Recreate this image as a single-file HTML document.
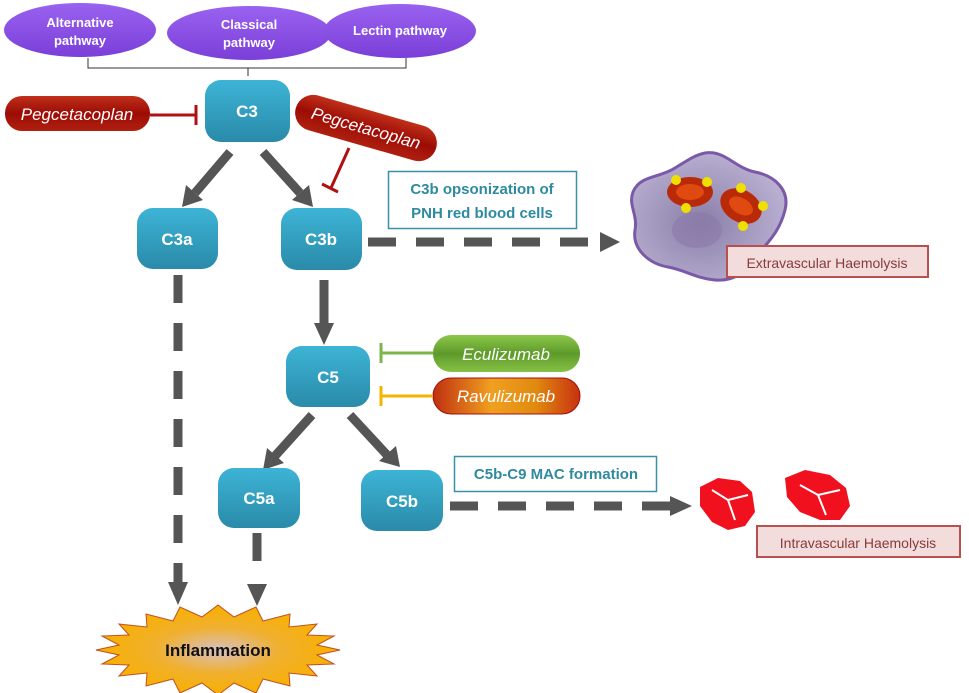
<!DOCTYPE html>
<html><head><meta charset="utf-8"><style>
html,body{margin:0;padding:0;background:#fff;}
svg{display:block;font-family:"Liberation Sans",sans-serif;}
</style></head><body>
<svg width="969" height="693" viewBox="0 0 969 693" xmlns="http://www.w3.org/2000/svg">
<defs>
<linearGradient id="box" x1="0" y1="0" x2="0" y2="1"><stop offset="0" stop-color="#3db4d6"/><stop offset="1" stop-color="#2a8aa9"/></linearGradient>
<linearGradient id="purp" x1="0" y1="0" x2="0" y2="1"><stop offset="0" stop-color="#9a62f0"/><stop offset="1" stop-color="#7a3fd8"/></linearGradient>
<linearGradient id="red" x1="0" y1="0" x2="0" y2="1"><stop offset="0" stop-color="#c0301a"/><stop offset="0.5" stop-color="#9c0c05"/><stop offset="1" stop-color="#b02010"/></linearGradient>
<linearGradient id="grn" x1="0" y1="0" x2="0" y2="1"><stop offset="0" stop-color="#8cc84a"/><stop offset="0.5" stop-color="#5e9a2a"/><stop offset="1" stop-color="#86c246"/></linearGradient>
<linearGradient id="org" x1="0" y1="0" x2="1" y2="0"><stop offset="0" stop-color="#c03010"/><stop offset="0.4" stop-color="#f0a020"/><stop offset="0.7" stop-color="#e08a10"/><stop offset="1" stop-color="#c83010"/></linearGradient>
<radialGradient id="star" cx="0.5" cy="0.5" r="0.5"><stop offset="0" stop-color="#d8c0c0"/><stop offset="0.5" stop-color="#f0b030"/><stop offset="1" stop-color="#f8b000"/></radialGradient>
<radialGradient id="mac" cx="0.45" cy="0.55" r="0.55"><stop offset="0" stop-color="#8a7ea8"/><stop offset="1" stop-color="#b8aed0"/></radialGradient>
</defs>

<ellipse cx="80" cy="30" rx="76" ry="27" fill="url(#purp)"/>
<ellipse cx="249" cy="33" rx="82" ry="27" fill="url(#purp)"/>
<ellipse cx="400" cy="31" rx="76" ry="27" fill="url(#purp)"/>
<g fill="#fff" font-weight="bold" font-size="13" text-anchor="middle">
<text x="80" y="27">Alternative</text><text x="80" y="45">pathway</text>
<text x="249" y="29">Classical</text><text x="249" y="47">pathway</text>
<text x="400" y="35">Lectin pathway</text>
</g>
<path d="M88 58 V68 H406 V58 M248 68 V76" fill="none" stroke="#333" stroke-width="1"/>

<g stroke="#555" stroke-width="9" fill="none">
<line x1="230" y1="152" x2="195" y2="193"/>
<line x1="263" y1="152" x2="300" y2="193"/>
<line x1="324" y1="280" x2="324" y2="325"/>
<line x1="312" y1="415" x2="275" y2="456"/>
<line x1="350" y1="415" x2="388" y2="456"/>
</g>
<g fill="#555">
<polygon points="182,207 186,185 203,200"/>
<polygon points="313,207 292,200 309,185"/>
<polygon points="314,323 334,323 324,345"/>
<polygon points="263,470 267,448 284,463"/>
<polygon points="400,467 379,461 396,446"/>
</g>

<g stroke="#555" stroke-width="9" fill="none" stroke-dasharray="28,20">
<line x1="368" y1="242" x2="600" y2="242"/>
<line x1="450" y1="506" x2="670" y2="506"/>
<line x1="178" y1="275" x2="178" y2="582"/>
<line x1="257" y1="533" x2="257" y2="563"/>
</g>
<g fill="#555">
<polygon points="600,232 620,242 600,252"/>
<polygon points="670,496 692,506 670,516"/>
<polygon points="168,582 188,582 178,605"/>
<polygon points="247,584 267,584 257,606"/>
</g>

<g fill="url(#box)">
<rect x="205" y="80" width="85" height="62" rx="16"/>
<rect x="137" y="208" width="81" height="61" rx="16"/>
<rect x="281" y="208" width="81" height="62" rx="16"/>
<rect x="286" y="346" width="84" height="61" rx="16"/>
<rect x="218" y="468" width="82" height="60" rx="16"/>
<rect x="361" y="470" width="82" height="61" rx="16"/>
</g>
<g fill="#fff" font-weight="bold" font-size="17" text-anchor="middle">
<text x="247" y="117">C3</text>
<text x="177" y="245">C3a</text>
<text x="321" y="245">C3b</text>
<text x="328" y="383">C5</text>
<text x="259" y="504">C5a</text>
<text x="402" y="507">C5b</text>
</g>

<rect x="5" y="96" width="145" height="35" rx="17" fill="url(#red)"/>
<text x="77" y="120" fill="#fff" font-style="italic" font-size="17" text-anchor="middle">Pegcetacoplan</text>
<path d="M150 115 H196 M196 105 V125" stroke="#b01010" stroke-width="3" fill="none"/>

<g transform="translate(366,128) rotate(16)">
<rect x="-73" y="-18" width="146" height="36" rx="18" fill="url(#red)"/>
<text x="0" y="6" fill="#fff" font-style="italic" font-size="17" text-anchor="middle">Pegcetacoplan</text>
</g>
<path d="M349 148 L331 188 M322 184 L338 192" stroke="#b01010" stroke-width="3" fill="none"/>

<rect x="433" y="335" width="147" height="37" rx="18" fill="url(#grn)"/>
<text x="506" y="360" fill="#fff" font-style="italic" font-size="17" text-anchor="middle">Eculizumab</text>
<path d="M380 353 H433 M381 343 V363" stroke="#7ab648" stroke-width="3" fill="none"/>

<rect x="433" y="378" width="147" height="36" rx="18" fill="url(#org)" stroke="#a01010" stroke-width="1"/>
<text x="506" y="402" fill="#fff" font-style="italic" font-size="17" text-anchor="middle">Ravulizumab</text>
<path d="M380 396 H433 M381 386 V406" stroke="#f5b400" stroke-width="3" fill="none"/>

<rect x="388.5" y="171.5" width="188" height="57" fill="#fff" stroke="#3a90a8" stroke-width="1.5"/>
<rect x="454.5" y="456.5" width="202" height="35" fill="#fff" stroke="#3a90a8" stroke-width="1.5"/>
<g fill="#2e8aa0" font-weight="bold" font-size="15" text-anchor="middle">
<text x="482" y="194">C3b opsonization of</text>
<text x="482" y="218">PNH red blood cells</text>
<text x="556" y="479">C5b-C9 MAC formation</text>
</g>

<path d="M705 153 C725 150 735 168 755 172 C775 176 790 190 785 210 C780 230 770 240 760 252 C750 265 740 282 715 280 C695 278 685 270 668 267 C650 264 632 250 635 230 C638 215 628 205 633 192 C640 175 660 178 675 168 C688 160 695 155 705 153 Z" fill="url(#mac)" stroke="#7a5aa8" stroke-width="3"/>
<ellipse cx="697" cy="230" rx="25" ry="18" fill="#8a7aa8" opacity="0.6"/>
<ellipse cx="690" cy="192" rx="23" ry="15" fill="#b82a08"/>
<ellipse cx="690" cy="192" rx="14" ry="8" fill="#e04a10"/>
<ellipse cx="741" cy="206" rx="22" ry="16" fill="#b82a08" transform="rotate(30 741 206)"/>
<ellipse cx="741" cy="206" rx="13" ry="8" fill="#e04a10" transform="rotate(30 741 206)"/>
<g fill="#f0e000">
<circle cx="676" cy="180" r="5"/><circle cx="707" cy="182" r="5"/><circle cx="686" cy="208" r="5"/>
<circle cx="741" cy="188" r="5"/><circle cx="763" cy="206" r="5"/><circle cx="743" cy="226" r="5"/>
</g>
<rect x="727" y="246" width="201" height="31" fill="#f2dcdc" stroke="#b85050" stroke-width="2"/>
<text x="827" y="268" fill="#8a3a3a" font-size="14" text-anchor="middle">Extravascular Haemolysis</text>

<g fill="#f0101e">
<path d="M700 487 L718 478 L740 481 L752 492 L755 512 L745 526 L728 530 L712 522 L700 506 Z"/>
<path d="M785 478 L805 470 L830 475 L846 488 L850 506 L840 520 L820 520 L800 512 L787 497 Z"/>
</g>
<g stroke="#fff" stroke-width="2" fill="none">
<path d="M712 490 L728 500 L735 520 M728 500 L748 495"/>
<path d="M800 485 L818 495 L826 515 M818 495 L840 490"/>
</g>
<rect x="757" y="526" width="203" height="31" fill="#f2dcdc" stroke="#b85050" stroke-width="2"/>
<text x="858" y="548" fill="#8a3a3a" font-size="14" text-anchor="middle">Intravascular Haemolysis</text>

<polygon fill="url(#star)" stroke="#c05020" stroke-width="1" points="340,650 317,655 334,664 307,665 317,676 289,673 290,686 263,679 256,693 234,683 218,695 202,683 180,693 173,679 146,686 147,673 119,676 129,665 102,664 119,655 96,650 119,645 102,636 129,635 119,624 147,627 146,614 173,621 180,607 202,617 218,605 234,617 256,607 263,621 290,614 289,627 317,624 307,635 334,636 317,645"/>
<text x="218" y="656" fill="#111" font-weight="bold" font-size="17" text-anchor="middle">Inflammation</text>
</svg>
</body></html>
